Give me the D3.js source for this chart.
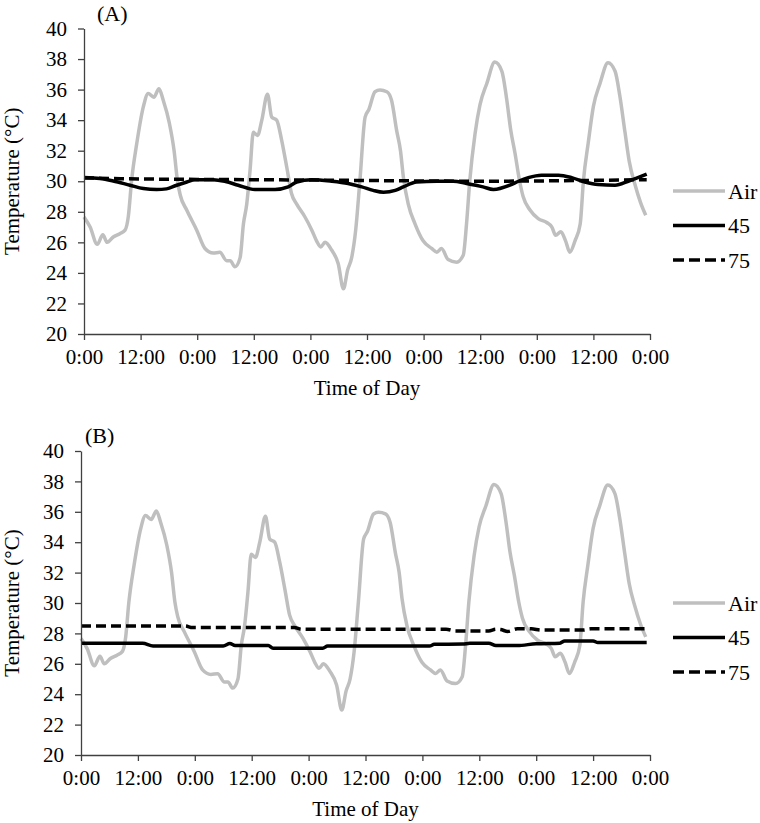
<!DOCTYPE html>
<html>
<head>
<meta charset="utf-8">
<script src="https://cdn.jsdelivr.net/npm/d3@7"></script>
<style>
  body { margin: 0; background: #fff; }
  text { font-family: "Liberation Serif", "Times New Roman", serif; fill: #000; }
</style>
</head>
<body>
<div id="chart"></div>
<script>
// Air temperature (same logger record in both panels), hours from start
var airHours = [0, 1.3, 2.8, 4.0, 4.9, 6.2, 7.6, 8.7, 9.4, 10.1, 11.2, 12.6, 13.6, 14.8, 15.9, 16.8, 18.1, 19.1, 19.8, 20.4,
    21.8, 23.9, 25.65, 27.4, 28.8, 30.25, 31.0, 32.0, 33.1, 33.8, 34.5, 35.2, 35.9, 36.8, 37.7, 38.9, 39.8, 40.85, 41.9, 43.0,
    44.0, 45.1, 46.85, 48.3, 49.3, 50.2, 51.1, 52.5, 53.9, 55.0, 55.9, 56.75, 57.6, 58.5, 59.6, 60.4, 61.7, 62.75, 64.2, 65.2,
    66.3, 67.1, 67.7, 68.75, 70.2, 71.9, 73.7, 74.8, 75.8, 77.2, 79.0, 80.4, 81.1, 81.8, 82.9, 83.95, 85.4, 87.1, 88.6, 89.6,
    90.5, 91.4, 92.3, 93.1, 94.6, 96.3, 98.1, 99.2, 100.0, 101.1, 102.1, 103.0, 104.1, 105.2, 105.9, 106.9, 108.0, 109.4, 111.1, 112.6,
    113.6, 114.7, 115.6, 116.8, 118.0, 119.1];
var airTemps = [27.66, 27.0, 25.87, 26.5, 26.0, 26.35, 26.57, 26.8, 27.7, 30.07, 32.5, 34.9, 35.75, 35.5, 36.05, 35.3, 33.8, 32.0, 30.07, 29.1,
    28.1, 26.8, 25.6, 25.3, 25.35, 24.8, 24.8, 24.4, 25.0, 27.2, 28.5, 30.7, 33.2, 33.0, 34.0, 35.7, 34.2, 34.0, 32.7, 30.9,
    29.2, 28.5, 27.66, 26.8, 26.1, 25.7, 26.0, 25.5, 24.6, 22.96, 24.2, 25.0, 26.8, 30.07, 34.2, 34.7, 35.86, 35.97, 35.86, 35.3,
    33.3, 32.0, 30.3, 28.5, 27.2, 26.1, 25.6, 25.36, 25.6, 24.87, 24.7, 25.15, 27.2, 30.07, 33.1, 35.0, 36.4, 37.8, 37.2, 35.4,
    33.3, 31.8, 30.1, 29.0, 28.1, 27.55, 27.3, 27.0, 26.46, 26.7, 26.1, 25.36, 26.1, 27.2, 30.07, 32.5, 34.9, 36.4, 37.76, 37.2,
    35.6, 33.2, 31.3, 29.8, 28.6, 27.77];

// Panel A, 45 and 75
var a45Hours = [0, 3.4, 6.2, 9.75, 12.6, 15.4, 17.5, 19.65, 21.8, 23.5, 27.4, 30.0, 32.7, 36.25, 40.5, 43.3, 45.1, 48.3, 52.5, 56,
    58.9, 61.3, 63.5, 66, 67.7, 70.5, 74.8, 78.3, 81.1, 84.6, 86.8, 90.3, 92.1, 94.2, 97.0, 100.6, 103.4, 106.2, 109, 112.6,
    115.4, 119.3];
var a45Temps = [30.24, 30.18, 30.02, 29.74, 29.52, 29.46, 29.5, 29.74, 29.95, 30.1, 30.1, 29.98, 29.74, 29.46, 29.46, 29.63, 29.95, 30.1, 30.0, 29.85,
    29.63, 29.4, 29.28, 29.4, 29.63, 29.95, 30.0, 30.0, 29.85, 29.63, 29.46, 29.74, 30.0, 30.24, 30.4, 30.4, 30.24, 29.95, 29.78, 29.74,
    30.0, 30.46];
var a75Hours = [0, 6, 12, 24, 36, 48, 60, 72, 84, 96, 108, 119.3];
var a75Temps = [30.22, 30.18, 30.15, 30.12, 30.1, 30.08, 30.05, 30.02, 30.0, 30.02, 30.06, 30.1];

// Panel B, 45 and 75
var b45Hours = [0, 13, 15.2, 30, 31.4, 32.5, 39.5, 40.5, 51, 52, 73.5, 74.5, 80.5, 82, 86, 87.5, 92, 96, 101, 102, 108, 109, 119.3];
var b45Temps = [27.35, 27.35, 27.17, 27.17, 27.33, 27.2, 27.2, 27.02, 27.02, 27.17, 27.17, 27.28, 27.3, 27.35, 27.35, 27.2, 27.2, 27.32, 27.36, 27.5, 27.5, 27.4, 27.4];
var b75Hours = [0, 22, 23.5, 45, 46.5, 77, 79, 86, 87.5, 88.5, 90, 92, 95, 97, 106, 107.5, 119.3];
var b75Temps = [28.49, 28.49, 28.38, 28.38, 28.27, 28.27, 28.16, 28.16, 28.27, 28.25, 28.13, 28.3, 28.3, 28.22, 28.22, 28.3, 28.3];

// Axes
var xTicks = [0, 12, 24, 36, 48, 60, 72, 84, 96, 108, 120];
var xTickLabels = ["0:00", "12:00", "0:00", "12:00", "0:00", "12:00", "0:00", "12:00", "0:00", "12:00", "0:00"];
var yTicks = [20, 22, 24, 26, 28, 30, 32, 34, 36, 38, 40];
var seriesNames = ["Air", "45", "75"];

var svg = d3.select("#chart")
    .append("svg")
    .attr("width", 760)
    .attr("height", 823);

function zip(hours, temps) {
    return hours.map(function(h, i) { return { h: h, t: temps[i] }; });
}

function drawPanel(opts) {
    var xScale = d3.scaleLinear().domain([0, 120]).range([opts.left, opts.right]);
    var yScale = d3.scaleLinear().domain([20, 40]).range([opts.bottom, opts.top]);

    var g = svg.append("g");

    var line = d3.line()
        .x(d => xScale(d.h))
        .y(d => yScale(d.t))
        .curve(d3.curveMonotoneX);

    // series
    var series = [
        { name: "Air", data: zip(airHours, airTemps), color: "#bfbfbf", dash: null },
        { name: "45", data: zip(opts.h45, opts.t45), color: "#000", dash: null },
        { name: "75", data: zip(opts.h75, opts.t75), color: "#000", dash: "10,5" }
    ];

    series.forEach(function(s) {
        g.append("path")
            .datum(s.data)
            .attr("d", line)
            .attr("fill", "none")
            .attr("stroke", s.color)
            .attr("stroke-width", 3.5)
            .attr("stroke-linejoin", "round")
            .attr("stroke-dasharray", s.dash);
    });

    // axes
    var xAxis = d3.axisBottom(xScale)
        .tickValues(xTicks)
        .tickFormat((d, i) => xTickLabels[i])
        .tickSize(6)
        .tickPadding(9)
        .tickSizeOuter(0);
    var yAxis = d3.axisLeft(yScale)
        .tickValues(yTicks)
        .tickSize(6)
        .tickPadding(11)
        .tickSizeOuter(0);

    var gx = g.append("g")
        .attr("transform", `translate(0, ${opts.bottom})`)
        .call(xAxis);
    var gy = g.append("g")
        .attr("transform", `translate(${opts.left}, 0)`)
        .call(yAxis);

    [gx, gy].forEach(function(ax) {
        ax.selectAll("path, line").attr("stroke", "#404040").attr("stroke-width", 1.3);
        ax.selectAll("text")
            .attr("font-family", "Liberation Serif")
            .attr("font-size", "21px")
            .attr("fill", "#000");
    });

    // titles
    g.append("text")
        .attr("x", opts.labelX)
        .attr("y", opts.top - 8)
        .attr("font-size", "22px")
        .text(opts.label);

    g.append("text")
        .attr("transform", `translate(19, ${(opts.top + opts.bottom) / 2}) rotate(-90)`)
        .attr("text-anchor", "middle")
        .attr("font-size", "21px")
        .text("Temperature (°C)");

    g.append("text")
        .attr("x", (opts.left + opts.right) / 2)
        .attr("y", opts.bottom + 61)
        .attr("text-anchor", "middle")
        .attr("font-size", "21px")
        .text("Time of Day");

    // legend
    var legend = g.append("g");
    series.forEach(function(s, i) {
        var ly = opts.legendTop + i * 34.5;
        legend.append("line")
            .attr("x1", 673).attr("x2", 725)
            .attr("y1", ly).attr("y2", ly)
            .attr("stroke", s.color)
            .attr("stroke-width", 3.5)
            .attr("stroke-dasharray", s.dash ? "11,5" : null);
        legend.append("text")
            .attr("x", 728)
            .attr("y", ly)
            .attr("dy", "0.35em")
            .attr("font-size", "22px")
            .text(seriesNames[i]);
    });
}

drawPanel({ label: "(A)", labelX: 97, left: 84, right: 650, top: 28.5, bottom: 334, legendTop: 191,
    h45: a45Hours, t45: a45Temps, h75: a75Hours, t75: a75Temps });
drawPanel({ label: "(B)", labelX: 85, left: 81, right: 650, top: 451, bottom: 755, legendTop: 603,
    h45: b45Hours, t45: b45Temps, h75: b75Hours, t75: b75Temps });
</script>
</body>
</html>
